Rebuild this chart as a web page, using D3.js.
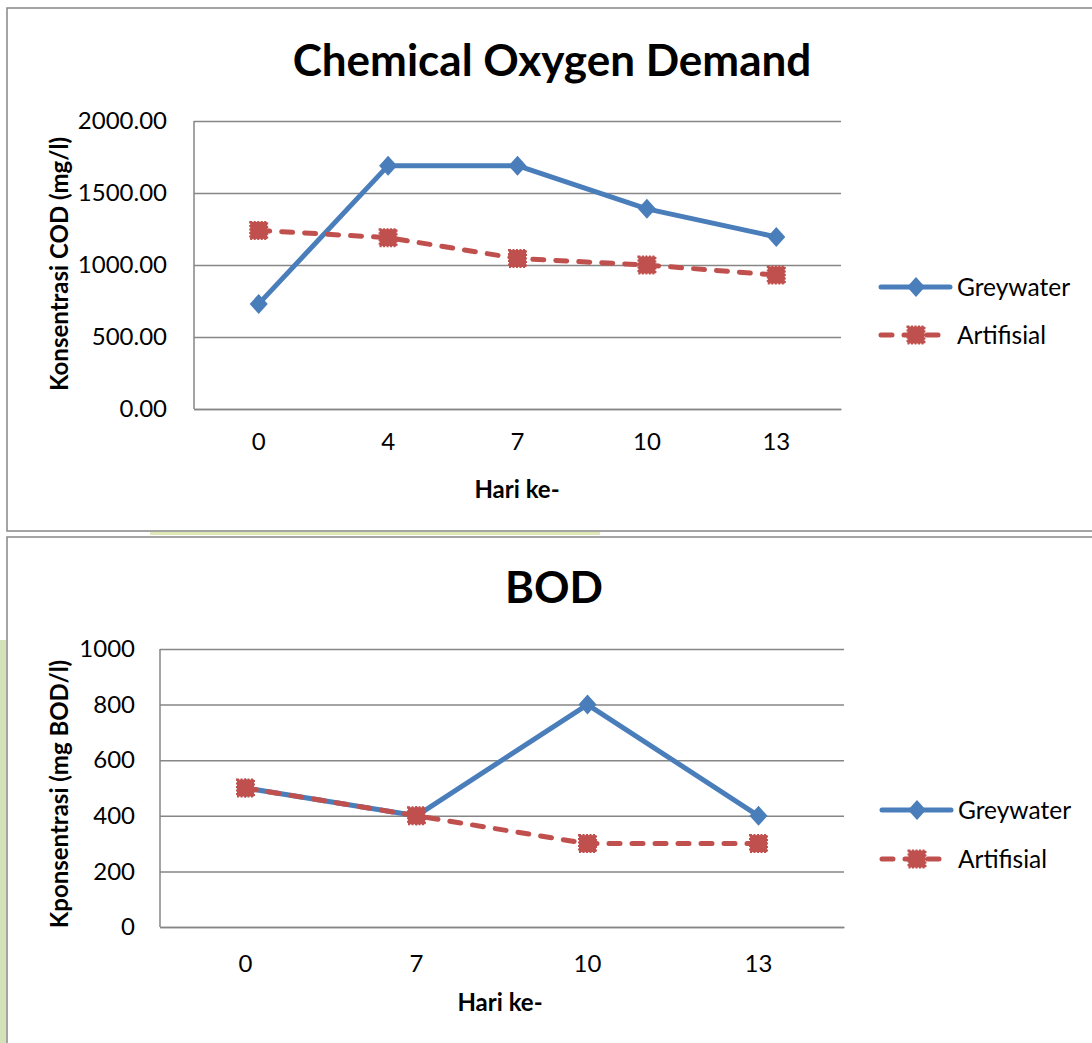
<!DOCTYPE html>
<html>
<head>
<meta charset="utf-8">
<script src="https://cdn.jsdelivr.net/npm/d3@7"></script>
<style>
  body { margin: 0; background: #fff; }
  svg { display: block; font-family: Lato, "Open Sans", sans-serif; }
</style>
</head>
<body>
<svg id="chart" width="1092" height="1043"></svg>
<script>
// COD chart data
const codDays = ["0", "4", "7", "10", "13"];
const codGreywater = [730, 1690, 1690, 1390, 1195];
const codArtifisial = [1240, 1190, 1045, 1000, 930];
const codTicks = [0, 500, 1000, 1500, 2000];

// BOD chart data
const bodDays = ["0", "7", "10", "13"];
const bodGreywater = [500, 400, 800, 400];
const bodArtifisial = [500, 400, 300, 300];
const bodTicks = [0, 200, 400, 600, 800, 1000];

const seriesNames = ["Greywater", "Artifisial"];
const blue = "#4a7ebb", red = "#c0504d", grid = "#868686";

const svg = d3.select("#chart");

// faint green watermark bits from the scanned page
svg.append("rect").attr("x", 0).attr("y", 640).attr("width", 6).attr("height", 403)
  .attr("fill", "#cbd9a6").attr("opacity", 0.8);
svg.append("rect").attr("x", 150).attr("y", 532).attr("width", 450).attr("height", 3)
  .attr("fill", "#dfe9b8");

// frames
svg.append("rect").attr("x", 7).attr("y", 8).attr("width", 1100).attr("height", 523)
  .attr("fill", "none").attr("stroke", grid).attr("stroke-width", 1.5);
svg.append("rect").attr("x", 7).attr("y", 537).attr("width", 1100).attr("height", 520)
  .attr("fill", "none").attr("stroke", grid).attr("stroke-width", 1.5);

function diamond(g, x, y) {
  g.append("path")
    .attr("d", `M${x},${y - 10}L${x + 9},${y}L${x},${y + 10}L${x - 9},${y}Z`)
    .attr("fill", blue);
}
function square(g, x, y) {
  g.append("rect").attr("x", x - 8.5).attr("y", y - 8.5).attr("width", 17).attr("height", 17)
    .attr("fill", red).attr("stroke", red).attr("stroke-width", 2)
    .attr("stroke-dasharray", "2,1.5");
}

function drawChart(o) {
  const g = svg.append("g");
  const x = d3.scaleBand().domain(o.days).range([o.left, o.right]);
  const y = d3.scaleLinear().domain([0, d3.max(o.ticks)]).range([o.bottom, o.top]);

  // gridlines + tick labels
  const yAxis = g.append("g").attr("transform", `translate(${o.left},0)`)
    .call(d3.axisLeft(y).tickValues(o.ticks).tickFormat(o.fmt)
      .tickSize(-(o.right - o.left)).tickPadding(o.left - o.labelRight));
  yAxis.select(".domain").remove();
  yAxis.selectAll("line").attr("stroke", grid).attr("stroke-width", 1.5);
  yAxis.selectAll("text").attr("font-size", 24).attr("fill", "#000")
    .attr("font-family", "Lato, sans-serif");

  // axis lines
  g.append("line").attr("x1", o.left).attr("x2", o.left).attr("y1", o.top).attr("y2", o.bottom)
    .attr("stroke", grid).attr("stroke-width", 1.5);
  const xAxis = g.append("g").attr("transform", `translate(0,${o.bottom})`)
    .call(d3.axisBottom(x).tickSize(0).tickPadding(o.xPad));
  xAxis.select(".domain").attr("stroke", grid).attr("stroke-width", 1.5);
  xAxis.selectAll("text").attr("font-size", 24).attr("fill", "#000")
    .attr("font-family", "Lato, sans-serif");

  // title and axis titles
  g.append("text").attr("x", o.titleX).attr("y", o.titleY).attr("text-anchor", "middle")
    .attr("font-size", o.titleSize).attr("font-weight", "bold").text(o.title);
  g.append("text").attr("transform", `translate(${o.yTitleX},${o.yTitleY}) rotate(-90)`)
    .attr("text-anchor", "middle").attr("font-size", 24).attr("font-weight", "bold")
    .text(o.yTitle);
  g.append("text").attr("x", o.xTitleX).attr("y", o.xTitleY).attr("text-anchor", "middle")
    .attr("font-size", 24).attr("font-weight", "bold").text("Hari ke-");

  const cx = (d, i) => x(o.days[i]) + x.bandwidth() / 2;
  const line = d3.line().x(cx).y(d => y(d));

  g.append("path").attr("d", line(o.greywater)).attr("fill", "none")
    .attr("stroke", blue).attr("stroke-width", 5).attr("stroke-linejoin", "round");
  g.append("path").attr("d", line(o.artifisial)).attr("fill", "none")
    .attr("stroke", red).attr("stroke-width", 5).attr("stroke-linecap", "round")
    .attr("stroke-dasharray", "11,12");
  o.greywater.forEach((d, i) => diamond(g, cx(d, i), y(d)));
  o.artifisial.forEach((d, i) => square(g, cx(d, i), y(d)));

  // legend
  const lg = g.append("g");
  seriesNames.forEach((name, i) => {
    const ly = o.legendY + i * o.legendGap;
    const col = i === 0 ? blue : red;
    lg.append("line").attr("x1", o.legendX).attr("x2", o.legendX + 69)
      .attr("y1", ly).attr("y2", ly).attr("stroke", col).attr("stroke-width", 5)
      .attr("stroke-linecap", "round")
      .attr("stroke-dasharray", i === 0 ? null : "11,12");
    if (i === 0) diamond(lg, o.legendX + 35, ly); else square(lg, o.legendX + 35, ly);
    lg.append("text").attr("x", o.legendX + 76).attr("y", ly).attr("dy", "0.35em")
      .attr("font-size", 24.5).text(name);
  });
}

drawChart({
  days: codDays, greywater: codGreywater, artifisial: codArtifisial, ticks: codTicks,
  fmt: d3.format(".2f"),
  left: 194, right: 841, top: 121, bottom: 409, labelRight: 167, xPad: 24,
  title: "Chemical Oxygen Demand", titleX: 552, titleY: 76, titleSize: 44,
  yTitle: "Konsentrasi COD (mg/l)", yTitleX: 68, yTitleY: 264,
  xTitleX: 517, xTitleY: 498,
  legendX: 881, legendY: 287, legendGap: 48
});

drawChart({
  days: bodDays, greywater: bodGreywater, artifisial: bodArtifisial, ticks: bodTicks,
  fmt: d3.format("d"),
  left: 160, right: 844, top: 649, bottom: 927, labelRight: 135, xPad: 28,
  title: "BOD", titleX: 554, titleY: 603, titleSize: 44,
  yTitle: "Kponsentrasi (mg BOD/l)", yTitleX: 68, yTitleY: 794,
  xTitleX: 500, xTitleY: 1011,
  legendX: 882, legendY: 810, legendGap: 49
});
</script>
</body>
</html>
